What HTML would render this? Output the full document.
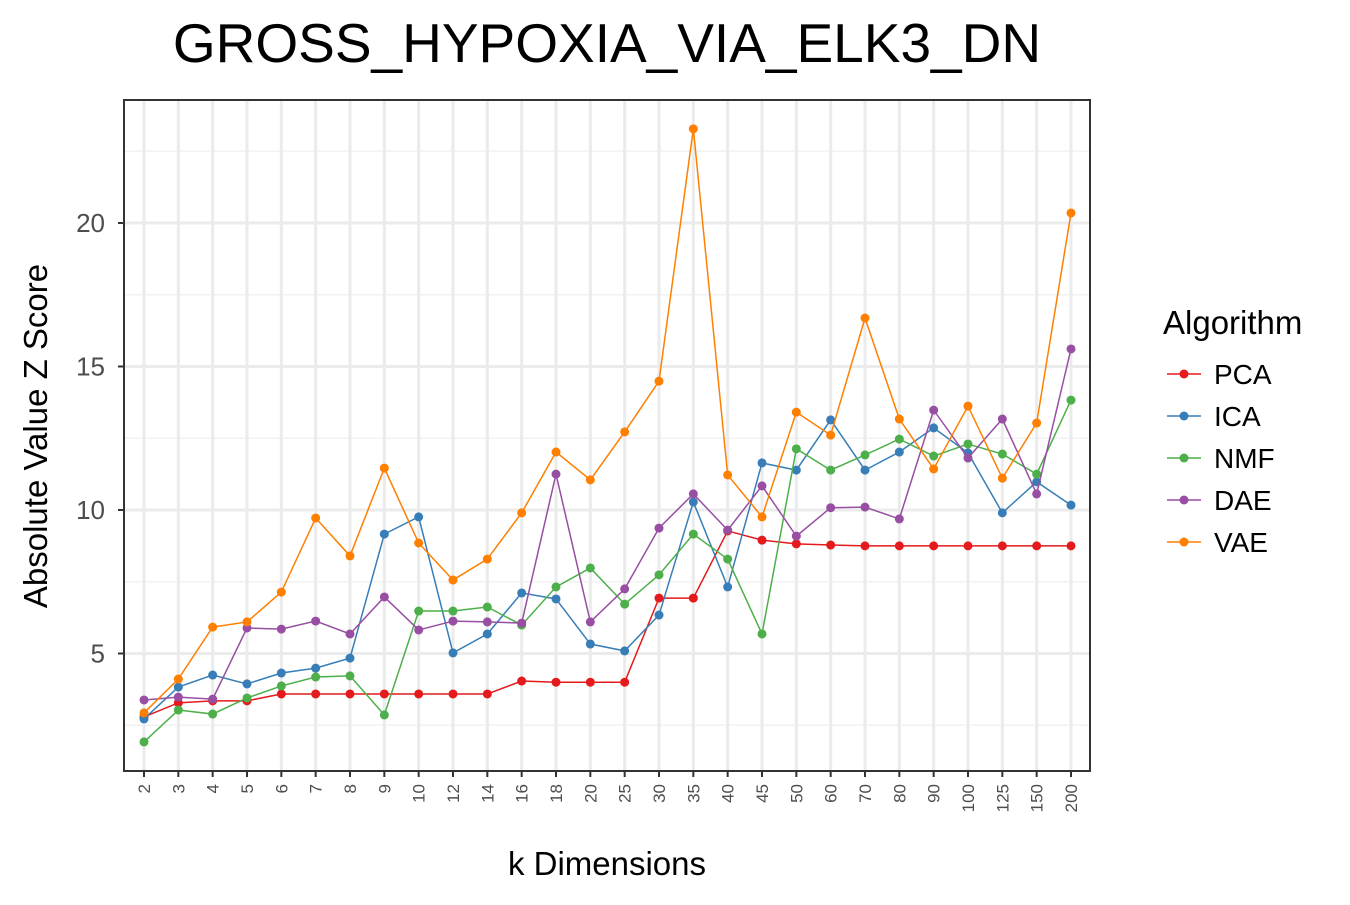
<!DOCTYPE html>
<html><head><meta charset="utf-8"><style>
body{margin:0;background:#fff;font-family:"Liberation Sans",sans-serif}
</style></head><body>
<svg id="chart" width="1350" height="900" xmlns="http://www.w3.org/2000/svg">
<text x="607" y="62" font-size="55" text-anchor="middle">GROSS_HYPOXIA_VIA_ELK3_DN</text>
<g id="grid"></g>
<g id="series"></g>
<rect x="124" y="100" width="966" height="671" fill="none" stroke="#333" stroke-width="2"/>
<g id="axes"></g>
<text x="607" y="875" font-size="33" text-anchor="middle">k Dimensions</text>
<text transform="translate(47,436) rotate(-90)" font-size="33" text-anchor="middle">Absolute Value Z Score</text>
<g id="legend"><text x="1163" y="334" font-size="33">Algorithm</text></g>
</svg>
<script>
const categories=["2","3","4","5","6","7","8","9","10","12","14","16","18","20","25","30","35","40","45","50","60","70","80","90","100","125","150","200"];
const pca=[2.79,3.28,3.35,3.35,3.59,3.59,3.59,3.59,3.59,3.59,3.59,4.04,4.0,4.0,4.0,6.93,6.93,9.27,8.95,8.82,8.78,8.75,8.75,8.75,8.75,8.75,8.75,8.75];
const ica=[2.72,3.83,4.25,3.94,4.32,4.49,4.84,9.16,9.76,5.02,5.68,7.11,6.90,5.33,5.09,6.34,10.28,7.32,11.64,11.39,13.14,11.39,12.02,12.86,11.99,9.90,10.98,10.17];
const nmf=[1.92,3.03,2.89,3.45,3.87,4.18,4.22,2.86,6.48,6.48,6.62,5.99,7.32,7.98,6.72,7.74,9.16,8.29,5.68,12.13,11.39,11.92,12.47,11.88,12.30,11.95,11.25,13.83];
const dae=[3.38,3.48,3.41,5.89,5.85,6.13,5.68,6.97,5.82,6.13,6.10,6.06,11.25,6.10,7.25,9.37,10.56,9.30,10.84,9.09,10.08,10.10,9.69,13.48,11.81,13.17,10.56,15.61];
const vae=[2.93,4.11,5.92,6.10,7.14,9.72,8.40,11.46,8.85,7.56,8.29,9.90,12.02,11.05,12.72,14.49,23.28,11.22,9.76,13.41,12.61,16.69,13.17,11.43,13.62,11.11,13.03,20.35];
const seriesNames=["PCA","ICA","NMF","DAE","VAE"];
const seriesColors=["#e41a1c","#377eb8","#4daf4a","#984ea3","#ff7f00"];
const yTicks=[5,10,15,20];
const NS="http://www.w3.org/2000/svg";
const x=i=>144+i*(1071-144)/(categories.length-1);
const y=v=>510-(v-10)*28.7;
function mk(p,t,a){const e=document.createElementNS(NS,t);for(const k in a)e.setAttribute(k,a[k]);p.appendChild(e);return e;}
const grid=document.getElementById('grid'),axes=document.getElementById('axes');
mk(grid,'rect',{x:124,y:100,width:966,height:671,fill:'#fff'});
for(let v=2.5;v<=22.5;v+=5){const l=mk(grid,'line',{x1:124,x2:1090,y1:y(v),y2:y(v),stroke:'#f2f2f2','stroke-width':1.5});

}
yTicks.forEach(v=>{const l=mk(grid,'line',{x1:124,x2:1090,y1:y(v),y2:y(v),stroke:'#ebebeb','stroke-width':3});


mk(axes,'line',{x1:118,x2:124,y1:y(v),y2:y(v),stroke:'#333','stroke-width':2});
const t=mk(axes,'text',{x:105,y:y(v)+9,'font-size':26,fill:'#4d4d4d','text-anchor':'end'});t.textContent=v;

});
categories.forEach((c,i)=>{const l=mk(grid,'line',{x1:x(i),x2:x(i),y1:100,y2:771,stroke:'#ebebeb','stroke-width':3});


mk(axes,'line',{x1:x(i),x2:x(i),y1:771,y2:777,stroke:'#333','stroke-width':2});
const t=mk(axes,'text',{transform:`translate(${x(i)+6},784) rotate(-90)`,'font-size':17,fill:'#4d4d4d','text-anchor':'end'});t.textContent=c;

});
const sg=document.getElementById('series'),lg=document.getElementById('legend');
[pca,ica,nmf,dae,vae].forEach((d,s)=>{const col=seriesColors[s];
const pl=mk(sg,'polyline',{points:d.map((v,i)=>x(i)+','+y(v)).join(' '),fill:'none',stroke:col,'stroke-width':1.5});


d.forEach((v,i)=>{const c=mk(sg,'circle',{cx:x(i),cy:y(v),r:4.5,fill:col});

});
const ly=374+s*42;
const g=mk(lg,'g',{});


mk(g,'line',{x1:1167,x2:1201,y1:ly,y2:ly,stroke:col,'stroke-width':1.5});
mk(g,'circle',{cx:1184,cy:ly,r:4.5,fill:col});
const t=mk(g,'text',{x:1214,y:ly+10,'font-size':28});t.textContent=seriesNames[s];});
</script>
</body></html>
